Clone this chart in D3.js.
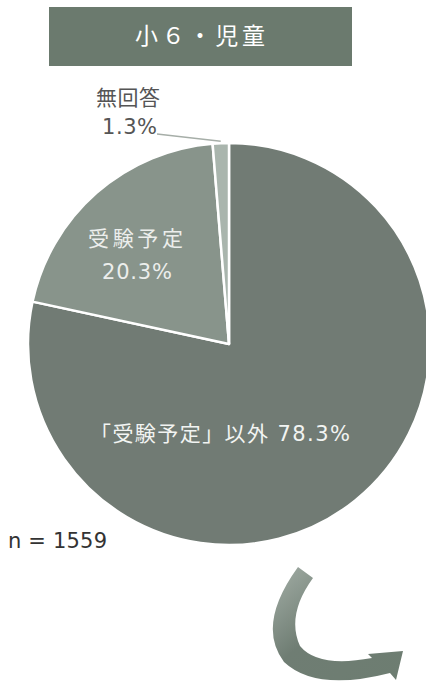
<!DOCTYPE html>
<html>
<head>
<meta charset="utf-8">
<script src="https://cdn.jsdelivr.net/npm/d3@7"></script>
<style>
  body { margin: 0; background: #fff; }
  svg { display: block; font-family: "DejaVu Sans", "Noto Sans CJK JP", sans-serif; }
</style>
</head>
<body>
<div id="chart"></div>
<script>
// data
const categories = ["「受験予定」以外", "受験予定", "無回答"];
const values = [78.3, 20.3, 1.3];
const colors = ["#717b74", "#88948b", "#a9b5ad"];
const title = "小６・児童";
const nLabel = "n = 1559";

const width = 426, height = 690;
const cx = 229, cy = 344, radius = 201;

const svg = d3.select("#chart").append("svg")
    .attr("width", width)
    .attr("height", height);

// title box
svg.append("rect")
    .attr("x", 49).attr("y", 7)
    .attr("width", 303).attr("height", 59)
    .attr("fill", "#6b7a6e");

svg.append("text")
    .attr("x", 135).attr("y", 44)
    .attr("textLength", 130)
    .attr("lengthAdjust", "spacing")
    .attr("fill", "#fff")
    .style("font-size", "23px")
    .text(title);

// pie
const data = categories.map((c, i) => ({ name: c, value: values[i], color: colors[i] }));

const pie = d3.pie()
    .sort(null)
    .value(d => d.value);

const arc = d3.arc()
    .innerRadius(0)
    .outerRadius(radius);

const arcs = pie(data);

const g = svg.append("g")
    .attr("transform", `translate(${cx},${cy})`);

g.selectAll("path")
    .data(arcs)
    .enter()
    .append("path")
    .attr("d", arc)
    .attr("fill", d => d.data.color)
    .attr("stroke", "#fff")
    .attr("stroke-width", 2.5)
    .attr("stroke-linejoin", "round");

// labels
function label(txt, x, y, w, size, fill) {
    svg.append("text")
        .attr("x", x).attr("y", y)
        .attr("textLength", w)
        .attr("lengthAdjust", "spacing")
        .attr("fill", fill)
        .style("font-size", size + "px")
        .text(txt);
}

label(`${categories[0]} ${values[0]}%`, 90, 441, 260, 21, "#f2f4f2");
label(categories[1], 88, 246, 95, 21, "#eceeec");
label(`${values[1]}%`, 102, 279, 70, 21, "#eceeec");
label(categories[2], 96, 105, 64, 21, "#555");
label(`${values[2]}%`, 102, 134, 55, 21, "#555");
label(nLabel, 8, 548, 99, 21, "#333");

// leader line for small slice
const mid = (arcs[2].startAngle + arcs[2].endAngle) / 2;
svg.append("polyline")
    .attr("points", `157,134 ${cx + Math.sin(mid) * (radius + 2)},${cy - Math.cos(mid) * (radius + 2)}`)
    .attr("fill", "none")
    .attr("stroke", "#a6aea8")
    .attr("stroke-width", 1.5);

// curved arrow
const grad = svg.append("defs").append("linearGradient")
    .attr("id", "arrowGrad")
    .attr("x1", "0").attr("y1", "0")
    .attr("x2", "1").attr("y2", "1");
grad.append("stop").attr("offset", "0%").attr("stop-color", "#a3aea6");
grad.append("stop").attr("offset", "45%").attr("stop-color", "#6f7d73");
grad.append("stop").attr("offset", "100%").attr("stop-color", "#6d7d71");

svg.append("path")
    .attr("d", "M298,567 L313,578 Q286,615 300,646 Q318,668 372,658 L368,654 L403,651 L396,680 L390,673 Q316,692 284,662 Q256,625 298,567 Z")
    .attr("fill", "url(#arrowGrad)");
</script>
</body>
</html>
